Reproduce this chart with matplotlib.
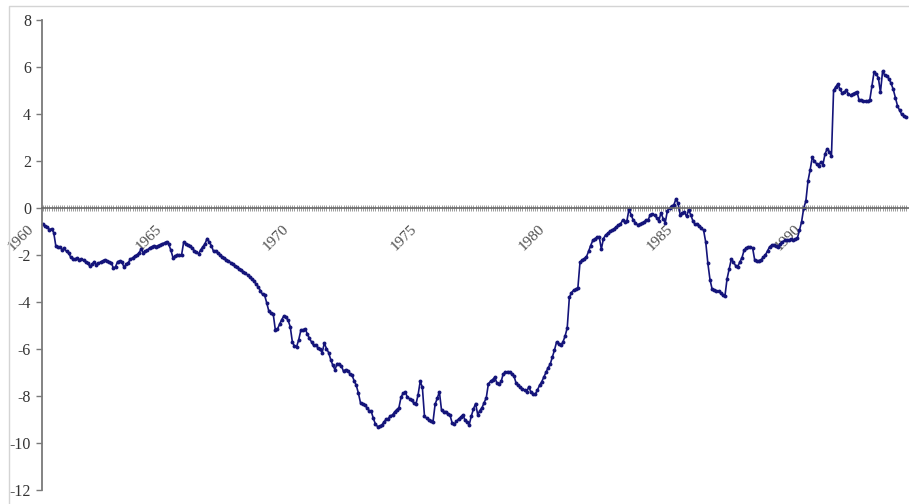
import matplotlib
matplotlib.use("Agg")
import matplotlib.pyplot as plt
from matplotlib.patches import Rectangle
from matplotlib.transforms import ScaledTranslation

# Monthly values, January 1960 onwards
values_1960s = [
    -0.70, -0.78, -0.80, -0.92, -0.88, -1.05, -1.62, -1.68, -1.66, -1.78, -1.72, -1.85,
    -1.92, -2.10, -2.15, -2.18, -2.12, -2.20, -2.16, -2.22, -2.30, -2.36, -2.48, -2.40,
    -2.28, -2.42, -2.35, -2.30, -2.25, -2.20, -2.26, -2.30, -2.32, -2.56, -2.50, -2.28,
    -2.26, -2.30, -2.52, -2.40, -2.32, -2.18, -2.12, -2.05, -2.00, -1.92, -1.75, -1.90,
    -1.84, -1.80, -1.70, -1.66, -1.60, -1.64, -1.60, -1.56, -1.52, -1.48, -1.43, -1.55,
    -1.80, -2.12, -2.05, -1.98, -2.02, -2.00, -1.45, -1.52, -1.58, -1.62, -1.70, -1.82,
    -1.88, -1.95, -1.78, -1.65, -1.52, -1.30, -1.45, -1.60, -1.85, -1.82, -1.92, -1.98,
    -2.08, -2.12, -2.20, -2.26, -2.32, -2.40, -2.45, -2.52, -2.58, -2.62, -2.72, -2.78,
    -2.85, -2.92, -3.02, -3.10, -3.25, -3.35, -3.52, -3.68, -3.72, -4.05, -4.40, -4.48,
    -4.50, -5.18, -5.15, -4.95, -4.75, -4.60, -4.65, -4.78, -5.05, -5.70, -5.88, -5.90,
]
values_1970s = [
    -5.60, -5.20, -5.18, -5.15, -5.35, -5.55, -5.70, -5.85, -5.82, -5.95, -6.02, -6.15,
    -5.75, -5.98, -6.15, -6.45, -6.70, -6.88, -6.62, -6.65, -6.72, -6.95, -6.88, -6.92,
    -7.05, -7.12, -7.35, -7.55, -7.88, -8.30, -8.32, -8.38, -8.50, -8.62, -8.65, -8.95,
    -9.20, -9.30, -9.28, -9.24, -9.10, -9.00, -8.96, -8.85, -8.80, -8.68, -8.58, -8.50,
    -8.05, -7.88, -7.85, -8.05, -8.12, -8.18, -8.30, -8.35, -7.95, -7.38, -7.62, -8.85,
    -8.95, -9.02, -9.05, -9.10, -8.35, -8.10, -7.82, -8.60, -8.68, -8.66, -8.75, -8.82,
    -9.15, -9.20, -9.08, -8.98, -8.90, -8.80, -9.02, -9.12, -9.22, -8.85, -8.55, -8.32,
    -8.80, -8.62, -8.50, -8.28, -8.08, -7.48, -7.38, -7.30, -7.20, -7.45, -7.50, -7.38,
    -7.05, -7.00, -6.96, -6.98, -7.05, -7.15, -7.45, -7.55, -7.62, -7.70, -7.75, -7.82,
    -7.60, -7.85, -7.90, -7.92, -7.75, -7.55, -7.40, -7.20, -7.00, -6.80, -6.65, -6.35,
]
values_1980s = [
    -6.05, -5.70, -5.78, -5.85, -5.70, -5.45, -5.10, -3.80, -3.60, -3.50, -3.45, -3.40,
    -2.30, -2.22, -2.15, -2.08, -1.85, -1.60, -1.38, -1.30, -1.25, -1.22, -1.75, -1.30,
    -1.15, -1.08, -1.00, -0.95, -0.88, -0.80, -0.74, -0.68, -0.52, -0.58, -0.55, -0.05,
    -0.30, -0.52, -0.62, -0.72, -0.68, -0.65, -0.60, -0.52, -0.50, -0.28, -0.25, -0.30,
    -0.42, -0.55, -0.20, -0.45, -0.62, -0.12, -0.02, 0.08, 0.12, 0.38, 0.20, -0.28,
    -0.22, -0.18, -0.36, -0.08, -0.30, -0.55, -0.70, -0.68, -0.75, -0.85, -0.95, -1.45,
    -2.35, -3.05, -3.45, -3.50, -3.52, -3.55, -3.60, -3.72, -3.76, -3.02, -2.60, -2.18,
    -2.30, -2.45, -2.50, -2.30, -2.12, -1.80, -1.70, -1.65, -1.66, -1.70, -2.22, -2.25,
    -2.24, -2.20, -2.10, -2.00, -1.82, -1.65, -1.58, -1.56, -1.60, -1.66, -1.52, -1.45,
    -1.38, -1.35, -1.36, -1.34, -1.36, -1.32, -1.28, -0.95, -0.58, 0.00, 0.30, 1.15,
]
values_1990s = [
    1.62, 2.15, 2.00, 1.88, 1.78, 1.96, 1.85, 2.30, 2.52, 2.40, 2.20, 5.00,
    5.15, 5.28, 5.05, 4.90, 4.92, 5.00, 4.85, 4.80, 4.86, 4.90, 4.95, 4.58,
    4.58, 4.56, 4.55, 4.55, 4.60, 5.20, 5.78, 5.70, 5.55, 4.92, 5.82, 5.65,
    5.62, 5.50, 5.30, 5.05, 4.70, 4.35, 4.15, 3.98, 3.92, 3.88,
]
year_labels = ["1960", "1965", "1970", "1975", "1980", "1985", "1990"]
y_ticks = [-12, -10, -8, -6, -4, -2, 0, 2, 4, 6, 8]

values = values_1960s + values_1970s + values_1980s + values_1990s
months = list(range(len(values)))

plt.rcParams["font.family"] = ["Liberation Serif", "DejaVu Serif"]
plt.rcParams["axes.unicode_minus"] = False

fig = plt.figure(figsize=(9.09, 5.04), dpi=100)
# light chart-area border
fig.add_artist(Rectangle((9 / 909, -0.05), 1.2, 1 - 6 / 504 + 0.05, transform=fig.transFigure,
                         fill=False, edgecolor="#d4d4d4", linewidth=1))

ax = fig.add_axes([42 / 909, 14 / 504, 867 / 909, 470 / 504])
ax.plot(months, values, color="#14147a", linewidth=1.2, marker="o", markersize=2.8,
        markeredgewidth=0, clip_on=False)

ax.set_ylim(-12, 8)
ax.set_xlim(-0.5, 406.4)
ax.set_yticks(y_ticks)

ax.spines["top"].set_visible(False)
ax.spines["right"].set_visible(False)
ax.spines["left"].set_color("#7a7a7a")
ax.spines["left"].set_linewidth(1.3)
ax.spines["bottom"].set_position(("data", 0))
ax.spines["bottom"].set_color("#6a6a6a")
ax.spines["bottom"].set_linewidth(1.2)

ax.tick_params(axis="y", direction="out", length=4, width=1, color="#7a7a7a",
               labelsize=11.5, labelcolor="#333333", pad=4)

ax.set_xticks(list(range(0, len(values), 60)))
ax.set_xticklabels(year_labels)
ax.set_xticks(months, minor=True)
ax.tick_params(axis="x", which="both", direction="inout", length=5, width=0.6,
               color="#8a8a8a")
ax.tick_params(axis="x", which="major", labelsize=11, labelcolor="#4d4d4d", pad=8)
for lab in ax.get_xticklabels():
    lab.set_rotation(45)
    lab.set_ha("right")
    lab.set_va("top")
    lab.set_transform(lab.get_transform() + ScaledTranslation(-7 / 100, 0, fig.dpi_scale_trans))

fig.savefig("out.png", dpi=100)
